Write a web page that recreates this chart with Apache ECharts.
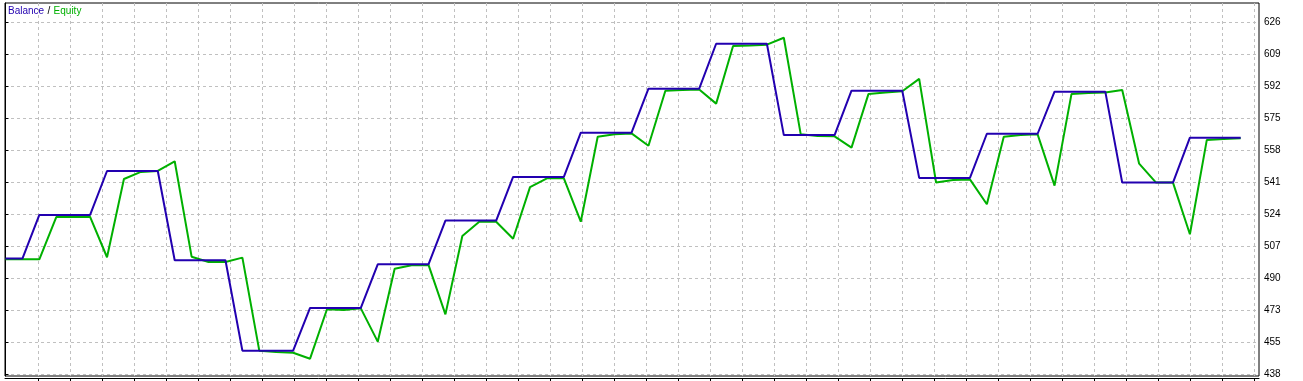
<!DOCTYPE html>
<html>
<head>
<meta charset="utf-8">
<script src="https://cdn.jsdelivr.net/npm/echarts@6/dist/echarts.min.js"></script>
<style>
html,body{margin:0;padding:0;background:#ffffff;}
#chart{width:1303px;height:381px;}
</style>
</head>
<body>
<div id="chart"></div>
<script>
// ---- data (trade index 0..73) ----
const balance = [
  500.3, 500.3,
  523.6, 523.6, 523.6, 523.6,
  547.1, 547.1, 547.1, 547.1,
  499.4, 499.4, 499.4, 499.4,
  451.1, 451.1, 451.1, 451.1,
  473.9, 473.9, 473.9, 473.9,
  497.2, 497.2, 497.2, 497.2,
  520.6, 520.6, 520.6, 520.6,
  543.9, 543.9, 543.9, 543.9,
  567.6, 567.6, 567.6, 567.6,
  591.1, 591.1, 591.1, 591.1,
  615.1, 615.1, 615.1, 615.1,
  566.3, 566.3, 566.3, 566.3,
  590.0, 590.0, 590.0, 590.0,
  543.4, 543.4, 543.4, 543.4,
  567.0, 567.0, 567.0, 567.0,
  589.5, 589.5, 589.5, 589.5,
  540.9, 540.9, 540.9, 540.9,
  564.9, 564.9, 564.9, 564.9
];
const equity = [
  499.9, 499.9, 499.9, 522.5, 522.5, 522.6, 501.0, 542.8, 546.6, 547.1,
  552.3, 501.3, 498.5, 498.5, 500.8, 451.1, 450.4, 450.0, 446.8, 473.2,
  472.8, 473.7, 455.9, 494.9, 496.7, 496.9, 470.5, 512.4, 520.0, 520.0,
  510.9, 538.5, 543.2, 543.2, 520.0, 565.4, 566.7, 567.2, 560.6, 590.0,
  590.4, 590.7, 583.1, 613.9, 614.1, 614.6, 618.3, 566.7, 565.8, 565.6,
  559.6, 588.2, 589.0, 589.7, 596.3, 540.9, 542.3, 542.6, 529.3, 565.4,
  566.3, 566.7, 539.3, 588.2, 588.8, 589.0, 590.4, 551.0, 540.9, 540.9,
  513.3, 563.7, 564.2, 564.6
];
const yTickLabels = ['438','455','473','490','507','524','541','558','575','592','609','626'];
const yTickStart = 438.35;
const yTickStep = 17.1;
const seriesNames = ['Balance', 'Equity'];

// ---- layout helpers ----
const PX_PER_YSTEP = 32;
const PX_PER_TRADE = 16.92;
const PX_PER_XGRID = 32;
const gridW = 1254, gridH = 373;

const yTickValues = yTickLabels.map((_, k) => yTickStart + k * yTickStep);
const yMin = yTickStart - 1.5 * yTickStep / PX_PER_YSTEP;
const yMax = yMin + gridH * yTickStep / PX_PER_YSTEP;
const xMin = -0.5 / PX_PER_TRADE;
const xMax = xMin + gridW / PX_PER_TRADE;
const gxMin = -1.5 / PX_PER_XGRID;
const gxMax = gxMin + gridW / PX_PER_XGRID;
const gridXValues = [];
for (let k = 1; k <= Math.floor(gxMax); k++) gridXValues.push(k);

const toPairs = arr => arr.map((v, i) => [i, v]);

const gridLineStyle = {color: '#c0c0c0', type: [3, 3], width: 1};

const chart = echarts.init(document.getElementById('chart'), null, {renderer: 'canvas'});
chart.setOption({
  animation: false,
  backgroundColor: '#ffffff',
  grid: {left: 5, top: 3, width: gridW, height: gridH, show: true,
         borderColor: '#000000', borderWidth: 1, backgroundColor: '#ffffff', containLabel: false},
  graphic: [
    {
      type: 'text', left: 8, top: 5, z: 100,
      style: {
        text: '{b|' + seriesNames[0] + '} {k|/} {e|' + seriesNames[1] + '}',
        rich: {
          b: {fill: '#2200b0', fontFamily: 'Liberation Sans', fontSize: 10},
          k: {fill: '#000000', fontFamily: 'Liberation Sans', fontSize: 10},
          e: {fill: '#00b000', fontFamily: 'Liberation Sans', fontSize: 10}
        }
      }
    },
    {
      type: 'rect', right: 0, bottom: 0, z: 100, silent: true,
      shape: {width: 43, height: 4},
      style: {fill: '#ffffff'}
    }
  ],
  xAxis: [
    {type: 'value', min: xMin, max: xMax, show: false},
    {type: 'value', min: gxMin, max: gxMax, position: 'bottom', offset: 2,
     axisLine: {show: true, onZero: false, lineStyle: {color: '#000000', width: 1}},
     axisTick: {show: true, length: 3, inside: false, customValues: gridXValues, lineStyle: {color: '#000000'}},
     axisLabel: {show: false, customValues: gridXValues},
     splitLine: {show: true, lineStyle: gridLineStyle}}
  ],
  yAxis: {
    type: 'value', position: 'right', min: yMin, max: yMax,
    axisLine: {show: true, lineStyle: {color: '#000000', width: 1}},
    axisTick: {show: true, length: 3, inside: false, customValues: yTickValues, lineStyle: {color: '#000000'}},
    axisLabel: {show: true, margin: 5, color: '#000000', fontFamily: 'Liberation Sans', fontSize: 10,
      customValues: yTickValues,
      formatter: v => yTickLabels[Math.round((v - yTickStart) / yTickStep)]},
    splitLine: {show: true, lineStyle: gridLineStyle}
  },
  series: [
    {name: seriesNames[1], type: 'line', xAxisIndex: 0, data: toPairs(equity), symbol: 'none',
     lineStyle: {color: '#00b000', width: 2}, z: 2},
    {name: seriesNames[0], type: 'line', xAxisIndex: 0, data: toPairs(balance), symbol: 'none',
     lineStyle: {color: '#2200b0', width: 2}, z: 3}
  ]
});
</script>
</body>
</html>
